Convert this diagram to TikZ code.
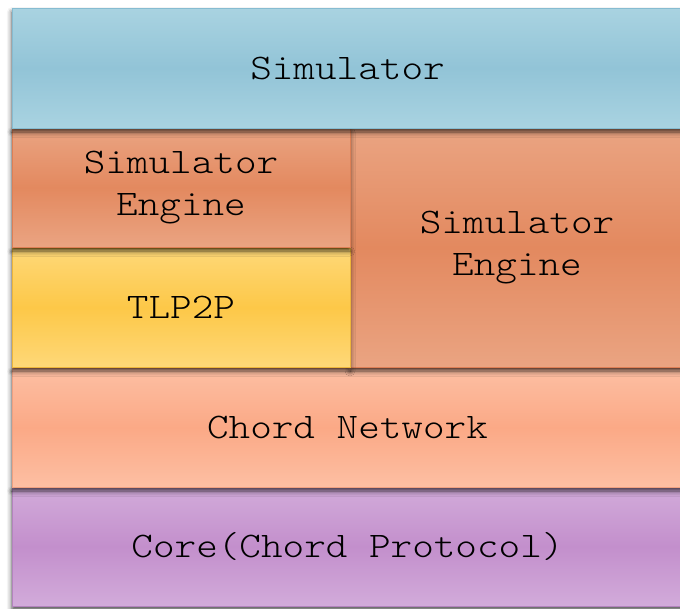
\documentclass[tikz,border=0pt]{standalone}
\usepackage{fontspec}
\setmonofont{lmmonolt10-regular.otf}[FakeStretch=1.143]
\usetikzlibrary{shadows.blur}

\definecolor{simEdge}{HTML}{A9D3E1}
\definecolor{simMid}{HTML}{92C4D7}
\definecolor{simLine}{HTML}{86BCD1}
\definecolor{engEdge}{HTML}{EAA482}
\definecolor{engMid}{HTML}{E3895F}
\definecolor{engLine}{HTML}{DE7F55}
\definecolor{tlpEdge}{HTML}{FED878}
\definecolor{tlpMid}{HTML}{FDC848}
\definecolor{tlpLine}{HTML}{EDB53A}
\definecolor{chdEdge}{HTML}{FDBFA3}
\definecolor{chdMid}{HTML}{FBA986}
\definecolor{chdLine}{HTML}{F0A080}
\definecolor{corEdge}{HTML}{D2ABDA}
\definecolor{corMid}{HTML}{C38FCC}
\definecolor{corLine}{HTML}{B383BE}

\tikzset{
  layer/.style={rectangle, inner sep=0pt, outer sep=0pt, anchor=north west,
    line width=1pt, align=center, text=black,
    font=\ttfamily\fontsize{36}{42}\selectfont,
    blur shadow={shadow xshift=0pt, shadow yshift=-4pt,
                 shadow blur radius=5pt, shadow opacity=70}},
  tint/.style n args={3}{draw=#3, top color=#1, bottom color=#1, middle color=#2}
}

\begin{document}
\begin{tikzpicture}[x=1pt, y=-1pt]
  \useasboundingbox (0,0) rectangle (680,608);
  \clip (0,0) rectangle (680,608);

  % stack drawn bottom-up so each shadow falls on the layer below
  \node[layer, tint={corEdge}{corMid}{corLine}, minimum width=671pt, minimum height=119pt]
    (core) at (12,487) {Core(Chord Protocol)};
  \node[layer, tint={chdEdge}{chdMid}{chdLine}, minimum width=671pt, minimum height=119pt]
    (chord) at (12,368) {Chord Network};
  \node[layer, tint={engEdge}{engMid}{engLine}, minimum width=334pt, minimum height=239pt]
    (engR) at (350,128) {Simulator\\Engine};
  \node[layer, tint={tlpEdge}{tlpMid}{tlpLine}, minimum width=338pt, minimum height=119pt]
    (tlp) at (12,248) {TLP2P};
  \node[layer, tint={engEdge}{engMid}{engLine}, minimum width=338pt, minimum height=119pt]
    (engL) at (12,128) {Simulator\\Engine};
  \node[layer, tint={simEdge}{simMid}{simLine}, minimum width=671pt, minimum height=120pt]
    (sim) at (12,8) {Simulator};
\end{tikzpicture}
\end{document}
